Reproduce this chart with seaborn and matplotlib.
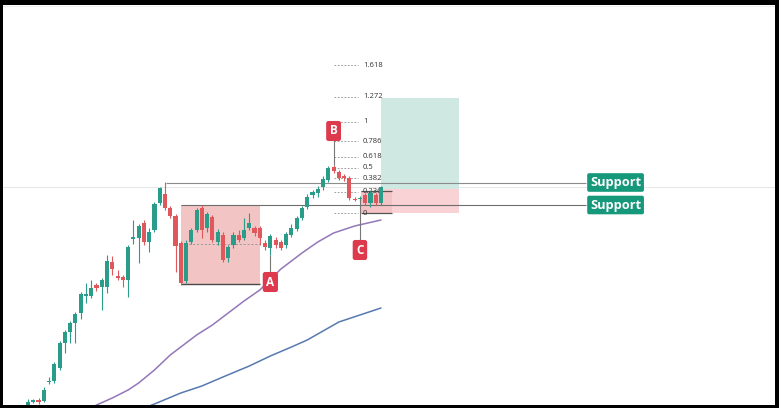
import matplotlib
matplotlib.use("Agg")
import numpy as np
import pandas as pd
import seaborn as sns
import matplotlib.pyplot as plt
from matplotlib.patches import Rectangle

# ---------------- data (arbitrary price units) ----------------
opens = [1, 6.5, 7, 7, 26, 27, 40, 65, 76, 85, 95, 112.5, 112, 123, 121, 121, 146, 132, 131, 128,
         169.5, 170, 185, 166, 178, 205, 214, 200, 192, 165, 127, 166, 178, 200, 180, 191, 166, 173,
         150, 163, 173, 170, 180, 180, 180, 165, 160, 168, 166, 163, 173, 179, 190, 201, 213, 215,
         221, 228, 241, 236, 231.5, 230, 209, 209, 213, 205, 213, 205]
closes = [6, 7, 6.5, 18, 27, 44, 65, 76, 85, 94, 114, 113, 120, 120, 128, 147, 139, 130, 128, 161,
          170, 182, 166, 176, 204, 220, 200, 192, 162, 125, 165, 178, 198, 178, 194, 168, 176, 148,
          161, 173, 168, 178, 185, 175, 170, 161, 172, 163, 160, 174, 180, 190, 200, 211, 216, 219,
          229, 240, 237, 230, 230.5, 210, 208, 210, 205, 215, 205, 221]
highs = [9, 9, 10, 21, 31, 46, 67, 78, 87, 96, 116, 125, 128, 125, 130, 153, 152, 138, 133, 163,
         188, 184, 188, 180, 206, 221, 226, 202, 194, 167, 168, 180, 200, 203, 196, 193, 179, 176,
         163, 176, 178, 190, 195, 182, 182, 168, 174, 171, 168, 176, 184, 192, 202, 214, 218, 222,
         232, 242, 243, 238, 234, 232, 211, 212, 215, 217, 215, 222]
lows = [0, 5, 4, 6, 24, 25, 38, 55, 65, 65, 89, 105, 110, 117, 98, 115, 133, 128, 121, 111,
        164, 145, 163, 156, 176, 203, 198, 190, 136, 123, 125, 164, 176, 170, 176, 166, 163, 146,
        146, 160, 166, 168, 178, 172, 163, 158, 153, 160, 158, 160, 171, 177, 188, 199, 210, 211,
        218, 226, 235, 228, 227, 208, 207, 207, 203, 201, 203, 203]

ma_fast_idx = [12, 13, 16, 19, 21, 24, 27, 30, 32, 35, 37, 41, 44, 48, 52, 55, 58, 62, 67]
ma_fast_val = [0, 3, 10, 18, 25, 38, 53, 65, 73, 83, 91, 107, 118, 139, 155, 166, 175, 182, 188]
ma_slow_idx = [22, 24, 29, 33, 37, 42, 46, 50, 53, 56, 59, 63, 67]
ma_slow_val = [0, 4, 15, 22, 31, 42, 52, 61, 68, 77, 86, 93, 100]

fib_levels = [0, 0.236, 0.382, 0.5, 0.618, 0.786, 1, 1.272, 1.618]
fib_labels = ["0", "0.236", "0.382", "0.5", "0.618", "0.786", "1", "1.272", "1.618"]
fib_zero = 194.7
fib_one = 286.3

support_levels = [225.5, 203]
support_labels = ["Support", "Support"]

zone_top, zone_bottom, zone_mid = 203, 124, 164
entry_price, target_price, stop_price = 219, 310.5, 195

point_names = ["A", "B", "C"]
point_idx = [46, 58, 63]
point_price = [153, 243, 209]
point_label_price = [126, 277, 158]

# ---------------- styling ----------------
sns.set_theme(style="white")
plt.rcParams["font.family"] = ["Open Sans", "DejaVu Sans"]

GREEN = "#2a9d8a"
RED = "#e0585b"
LABEL_RED = "#dd3a4d"
LABEL_GREEN = "#16987b"

W, H = 779, 408
fig = plt.figure(figsize=(W / 100, H / 100), dpi=100)
fig.patch.set_facecolor("white")
ax = fig.add_axes([0, 0, 1, 1])
ax.set_facecolor("white")

dx = 5.2687
x0 = 28

def px(xpix):
    return (xpix - x0) / dx

# faint horizontal guide lines
ax.axhline(221, color="#e6e6e6", lw=0.7, zorder=0)
ax.axhline(402, color="#eeeeee", lw=0.7, zorder=0)

# consolidation zone
ax.add_patch(Rectangle((px(181), zone_bottom), px(260) - px(181), zone_top - zone_bottom,
                       facecolor="#f2c4c4", edgecolor="none", zorder=1))
ax.hlines(zone_bottom, px(181), px(260), color="#4a4a4a", lw=1.0, zorder=2)
ax.hlines(zone_mid, px(181), px(260), color="#999999", lw=0.7, linestyles=(0, (2, 2)), zorder=2)

# fib levels
for lv, lab in zip(fib_levels, fib_labels):
    yv = fib_zero + lv * (fib_one - fib_zero)
    ax.hlines(yv, px(334), px(358), color="#8a8a8a", lw=0.6, linestyles=(0, (2, 2)), zorder=1)
    ax.text(px(363), yv, lab, fontsize=5.5, color="#333333", va="center", ha="left", zorder=3)

# long position boxes
ax.add_patch(Rectangle((px(381), entry_price), px(459) - px(381), target_price - entry_price,
                       facecolor="#cfe9e2", edgecolor="none", zorder=2))
ax.add_patch(Rectangle((px(381), stop_price), px(459) - px(381), entry_price - stop_price,
                       facecolor="#f9d2d5", edgecolor="none", zorder=2))
# small pink range box
ax.add_patch(Rectangle((px(361), stop_price), px(392) - px(361), 217 - stop_price,
                       facecolor="#f3c3c6", edgecolor="none", zorder=2))
ax.hlines([stop_price, 217], px(361), px(392), color="#555555", lw=0.9, zorder=2)

# support lines
ax.hlines(support_levels[0], px(166), px(586), color="#8c8c8c", lw=0.8, zorder=2)
ax.hlines(support_levels[1], px(181), px(586), color="#6e6e6e", lw=0.8, zorder=2)
for lvl, lab in zip(support_levels, support_labels):
    ax.text(px(590), lvl, lab, fontsize=9.2, fontweight="bold", color="white",
            ha="left", va="center", zorder=6,
            bbox=dict(boxstyle="round,pad=0.22,rounding_size=0.15", fc=LABEL_GREEN, ec="none"))

# moving averages
ma_fast = pd.DataFrame({"idx": ma_fast_idx, "val": ma_fast_val})
ma_slow = pd.DataFrame({"idx": ma_slow_idx, "val": ma_slow_val})
sns.lineplot(data=ma_fast, x="idx", y="val", ax=ax, color="#9377b8", lw=1.1, zorder=3)
sns.lineplot(data=ma_slow, x="idx", y="val", ax=ax, color="#5679b0", lw=1.1, zorder=3)

# candles
n = len(opens)
idx = np.arange(n)
o = np.array(opens, float)
c = np.array(closes, float)
hi = np.array(highs, float)
lo = np.array(lows, float)
up = c >= o
colors = np.where(up, GREEN, RED)
ax.vlines(idx, lo, hi, colors=colors, lw=0.8, zorder=4)
body_bottom = np.minimum(o, c)
body_h = np.maximum(np.abs(c - o), 1.2)
ax.bar(idx, body_h, bottom=body_bottom, width=0.78, color=colors, edgecolor="none", zorder=4)

# A B C markers
for name, xi, pp, lp in zip(point_names, point_idx, point_price, point_label_price):
    if lp > pp:
        ax.vlines(xi, pp, lp - 8, color="#777777", lw=0.8, zorder=4)
    else:
        ax.vlines(xi, lp + 8, pp, color="#777777", lw=0.8, zorder=4)
    ax.text(xi, lp, name, fontsize=8.5, fontweight="bold", color="white", ha="center",
            va="center", zorder=6,
            bbox=dict(boxstyle="round,pad=0.3,rounding_size=0.2", fc=LABEL_RED, ec="none"))

ax.set_xlim(-x0 / dx, (W - x0) / dx)
ax.set_ylim(0, H)
ax.axis("off")

# black frame around the picture
for (fx, fy, fw, fh) in [(0, 1 - 5 / H, 1, 5 / H), (0, 0, 1, 3 / H), (0, 0, 3 / W, 1), (1 - 4 / W, 0, 4 / W, 1)]:
    fig.add_artist(Rectangle((fx, fy), fw, fh, transform=fig.transFigure, facecolor="black",
                             edgecolor="none", zorder=10))

fig.savefig("out.png", dpi=100, facecolor="white")
